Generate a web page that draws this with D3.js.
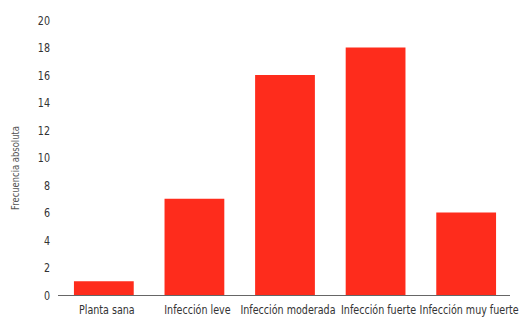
<!DOCTYPE html>
<html>
<head>
<meta charset="utf-8">
<script src="https://cdn.jsdelivr.net/npm/d3@7"></script>
<style>
  body { margin: 0; background: #fff; }
  text { font-family: "DejaVu Sans Condensed", "DejaVu Sans", sans-serif; fill: #333; }
</style>
</head>
<body>
<svg id="chart" width="525" height="325"></svg>
<script>
// data
const categories = ["Planta sana", "Infección leve", "Infección moderada", "Infección fuerte", "Infección muy fuerte"];
const frequencies = [1, 7, 16, 18, 6];
const yTicks = [0, 2, 4, 6, 8, 10, 12, 14, 16, 18, 20];

// the original font is a condensed face, squeeze text horizontally
const squeeze = 0.85;

var svg = d3.select("#chart");

var x = d3.scaleBand()
    .domain(categories)
    .range([58, 512])
    .paddingInner(0.34)
    .paddingOuter(0.176);

var y = d3.scaleLinear()
    .domain([0, 20])
    .range([295, 20]);

// bars
svg.append("g")
  .selectAll("rect")
  .data(categories)
  .enter().append("rect")
    .attr("x", function(d) { return x(d); })
    .attr("y", function(d, i) { return y(frequencies[i]); })
    .attr("width", x.bandwidth())
    .attr("height", function(d, i) { return y(0) - y(frequencies[i]); })
    .attr("fill", "#fe2c1c");

// baseline
svg.append("line")
    .attr("x1", 58).attr("x2", 510)
    .attr("y1", y(0) + 0.5).attr("y2", y(0) + 0.5)
    .attr("stroke", "#666")
    .attr("stroke-width", 1);

// y tick labels
svg.append("g")
  .selectAll("text")
  .data(yTicks)
  .enter().append("text")
    .attr("transform", function(d) { return "translate(50," + y(d) + ") scale(" + squeeze + ",1)"; })
    .attr("dy", "0.36em")
    .attr("text-anchor", "end")
    .style("font-size", "12.5px")
    .text(function(d) { return d; });

// x category labels
svg.append("g")
  .selectAll("text")
  .data(categories)
  .enter().append("text")
    .attr("transform", function(d) { return "translate(" + (x(d) + x.bandwidth() / 2 + 3) + ",314) scale(" + squeeze + ",1)"; })
    .attr("text-anchor", "middle")
    .style("font-size", "12.5px")
    .text(function(d) { return d; });

// y axis title
svg.append("text")
    .attr("transform", "translate(19,168) rotate(-90) scale(" + squeeze + ",1)")
    .attr("text-anchor", "middle")
    .style("font-size", "11px")
    .style("fill", "#555")
    .text("Frecuencia absoluta");
</script>
</body>
</html>
